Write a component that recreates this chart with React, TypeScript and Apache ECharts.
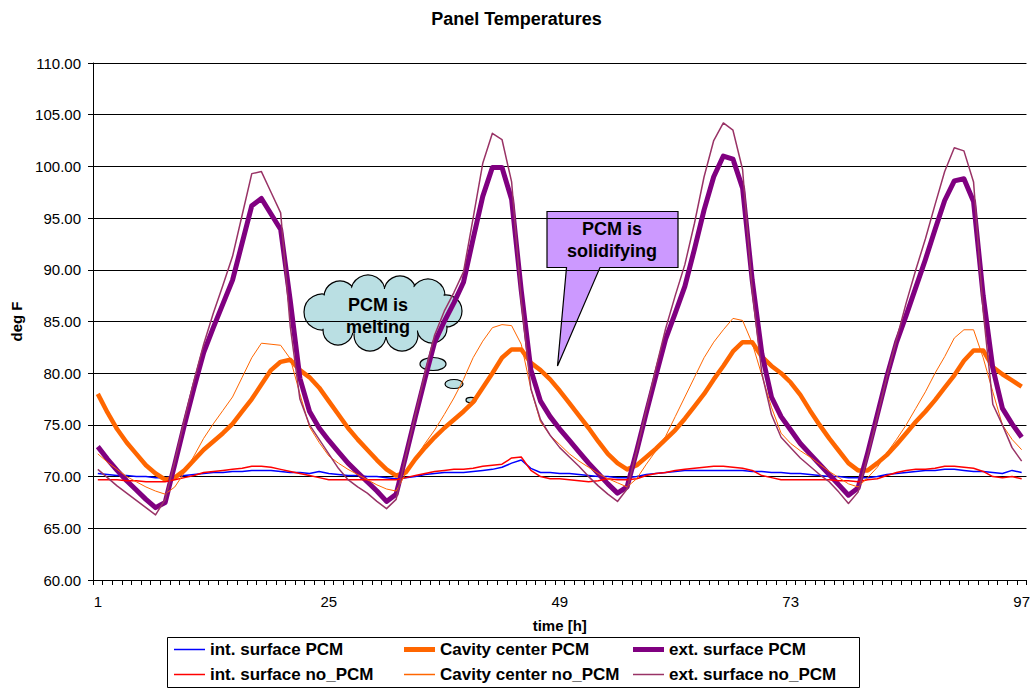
import React, { useEffect, useRef } from "react";
import * as echarts from "echarts";

const hours: string[] = Array.from({ length: 97 }, (_, i) => String(i + 1));

const intPCM = [
  70.3, 70.2, 70.1, 70.1, 70.0, 70.0, 69.9, 69.9, 70.0, 70.1,
  70.2, 70.3, 70.4, 70.4, 70.5, 70.5, 70.6, 70.6, 70.6, 70.5,
  70.4, 70.4, 70.3, 70.5, 70.3, 70.2, 70.1, 70.1, 70.0, 70.0,
  69.9, 69.8, 69.9, 70.0, 70.2, 70.3, 70.4, 70.4, 70.4, 70.5,
  70.6, 70.7, 70.9, 71.3, 71.6, 70.8, 70.4, 70.4, 70.3, 70.3,
  70.2, 70.1, 70.0, 70.0, 69.9, 69.9, 70.0, 70.2, 70.3, 70.4,
  70.5, 70.6, 70.6, 70.6, 70.6, 70.6, 70.6, 70.6, 70.5, 70.5,
  70.4, 70.4, 70.3, 70.3, 70.2, 70.1, 70.0, 70.0, 69.9, 69.9,
  69.9, 70.0, 70.2, 70.3, 70.4, 70.5, 70.6, 70.6, 70.7, 70.7,
  70.6, 70.5, 70.5, 70.4, 70.3, 70.6, 70.4,
];

const cavityPCM = [
  78.0, 76.2, 74.6, 73.3, 72.2, 71.1, 70.3, 69.7, 69.9, 70.6,
  71.6, 72.6, 73.4, 74.2, 75.1, 76.3, 77.5, 78.9, 80.3, 81.1,
  81.3, 80.3, 79.6, 78.6, 77.3, 76.0, 74.7, 73.6, 72.6, 71.6,
  70.7, 70.1, 70.4, 71.7, 72.8, 73.8, 74.7, 75.5, 76.3, 77.2,
  78.6, 80.0, 81.5, 82.3, 82.3, 81.0, 80.3, 79.4, 78.3, 77.1,
  75.9, 74.7, 73.4, 72.2, 71.3, 70.7, 71.1, 71.9, 72.7, 73.6,
  74.5, 75.6, 76.8, 78.0, 79.4, 80.7, 82.1, 83.0, 83.0, 81.6,
  80.7, 80.0, 79.1, 77.9, 76.4, 75.0, 73.7, 72.5, 71.3, 70.6,
  70.6, 71.3, 72.1, 73.1, 74.2, 75.3, 76.3, 77.4, 78.6, 79.8,
  81.2, 82.2, 82.2, 80.6, 79.9, 79.3, 78.7,
];

const extPCM = [
  72.9, 71.7, 70.6, 69.6, 68.7, 67.8, 67.0, 67.5, 71.2, 75.0,
  78.6, 82.0, 84.4, 86.7, 89.0, 92.6, 96.2, 96.9, 95.4, 93.9,
  87.0, 79.5, 76.3, 74.7, 73.5, 72.4, 71.3, 70.4, 69.5, 68.6,
  67.6, 68.3, 72.0, 75.8, 79.5, 83.0, 85.0, 86.8, 88.8, 93.0,
  97.1, 99.9, 99.9, 96.8, 88.0, 80.3, 77.3, 75.8, 74.6, 73.5,
  72.4, 71.3, 70.3, 69.3, 68.4, 69.0, 72.5, 76.2, 79.8, 83.3,
  85.8, 88.4, 92.0, 95.8, 99.0, 101.0, 100.7, 97.9, 89.0, 81.9,
  77.7, 75.8, 74.5, 73.2, 72.2, 71.2, 70.2, 69.2, 68.2, 68.9,
  72.3, 76.0, 79.7, 83.0, 85.6, 88.3, 91.0, 93.9, 96.7, 98.6,
  98.8, 96.6, 87.5, 80.5, 76.6, 75.1, 73.8,
];

const intNoPCM = [
  69.7, 69.7, 69.7, 69.6, 69.6, 69.5, 69.5, 69.5, 69.7, 69.9,
  70.1, 70.4, 70.5, 70.6, 70.7, 70.8, 71.0, 71.0, 70.9, 70.7,
  70.5, 70.3, 70.1, 69.9, 69.7, 69.7, 69.7, 69.7, 69.7, 69.7,
  69.7, 69.7, 69.9, 70.1, 70.3, 70.5, 70.6, 70.7, 70.7, 70.8,
  71.0, 71.1, 71.2, 71.8, 71.9, 70.6, 70.0, 69.8, 69.8, 69.7,
  69.6, 69.5, 69.6, 69.8, 69.7, 69.7, 69.8, 70.1, 70.3, 70.4,
  70.6, 70.7, 70.8, 70.9, 71.0, 71.0, 70.9, 70.8, 70.6, 70.1,
  69.9, 69.7, 69.7, 69.7, 69.7, 69.7, 69.7, 69.6, 69.6, 69.5,
  69.7, 69.8, 70.1, 70.4, 70.6, 70.7, 70.7, 70.8, 71.0, 71.0,
  70.9, 70.8, 70.5, 70.0, 69.9, 70.0, 69.8,
];

const cavityNoPCM = [
  72.2, 71.4, 70.7, 70.0, 69.5, 69.0, 68.6, 68.3, 69.0, 70.4,
  72.0, 73.7, 75.1, 76.4, 77.7, 79.6, 81.5, 82.9, 82.8, 82.7,
  81.4, 78.0, 74.8, 73.3, 72.0, 71.3, 70.7, 70.2, 69.7, 69.2,
  68.8, 68.6, 70.3, 71.8, 73.2, 74.5, 76.0, 77.6, 79.4, 81.5,
  83.1, 84.4, 84.7, 84.6, 82.8, 78.5, 75.3, 74.0, 73.1, 72.2,
  71.5, 70.9, 70.3, 69.8, 69.4, 69.0, 69.8, 71.2, 72.5, 73.9,
  75.8, 77.7, 79.6, 81.5, 83.0, 84.2, 85.3, 85.1, 82.9, 79.8,
  76.7, 74.2, 73.2, 72.5, 71.9, 71.2, 70.5, 69.9, 69.3, 69.0,
  69.9, 70.9, 72.3, 73.6, 75.0, 76.6, 78.2, 80.0, 81.6, 83.4,
  84.2, 84.2, 81.5, 78.2, 75.0, 73.6, 72.6,
];

const extNoPCM = [
  70.7, 69.9, 69.1, 68.4, 67.7, 67.0, 66.3, 67.8, 71.5, 75.5,
  79.3, 82.8, 85.8, 88.5, 91.3, 95.3, 99.3, 99.5, 97.5, 95.5,
  84.5, 77.5, 75.0, 73.6, 72.2, 70.8, 69.7, 69.0, 68.4, 67.6,
  66.9, 67.8, 72.0, 76.0, 80.0, 83.7, 86.0, 87.8, 89.8, 95.0,
  100.3, 103.2, 102.6, 98.5, 87.0, 78.5, 75.5, 74.0, 72.8, 71.9,
  71.0, 70.0, 69.1, 68.3, 67.6, 68.8, 72.5, 76.5, 80.5, 84.3,
  87.5, 90.5, 94.5, 99.0, 102.5, 104.2, 103.5, 99.7, 88.0, 80.0,
  76.0, 73.8, 72.8, 71.8, 71.0, 70.2, 69.5, 68.5, 67.4, 68.5,
  72.0, 75.8, 79.7, 83.3, 86.8, 90.0, 93.0, 96.3, 99.5, 101.8,
  101.5, 98.5, 86.0, 77.0, 75.0, 72.8, 71.5,
];

const seriesNames = [
  "int. surface PCM",
  "Cavity center PCM",
  "ext. surface PCM",
  "int. surface no_PCM",
  "Cavity center no_PCM",
  "ext. surface no_PCM",
];
const seriesData = [intPCM, cavityPCM, extPCM, intNoPCM, cavityNoPCM, extNoPCM];
const seriesColors = ["#0000FF", "#FF6600", "#800080", "#FF0000", "#FF6600", "#993366"];
const seriesWidths = [1.5, 4.5, 5, 1.5, 1, 1.5];

const FONT = "'Liberation Sans', Arial, sans-serif";

export default function App() {
  const ref = useRef<HTMLDivElement>(null);

  useEffect(() => {
    const chart = echarts.init(ref.current as HTMLDivElement, null, { renderer: "svg" });

    const cloudCircles: number[][] = [
      [322, 312, 18], [340, 297, 16], [368, 292, 17], [400, 292, 16], [428, 296, 17],
      [446, 311, 16], [432, 328, 15], [402, 335, 16], [370, 335, 16], [338, 330, 15],
    ];
    const cloudFill = "#BADFE3";
    const cloudChildren: any[] = [];
    cloudCircles.forEach(([cx, cy, r]) =>
      cloudChildren.push({
        type: "circle",
        shape: { cx, cy, r },
        style: { fill: cloudFill, stroke: "#000", lineWidth: 1.2 },
      })
    );
    cloudCircles.forEach(([cx, cy, r]) =>
      cloudChildren.push({
        type: "circle",
        shape: { cx, cy, r: r - 1.3 },
        style: { fill: cloudFill, lineWidth: 0 },
      })
    );
    cloudChildren.push({
      type: "ellipse",
      shape: { cx: 382, cy: 313, rx: 52, ry: 24 },
      style: { fill: cloudFill, lineWidth: 0 },
    });
    const bubbles = [
      [433, 364, 13, 6.5],
      [454, 384, 9, 4.5],
      [471, 400, 5, 2.7],
    ];
    bubbles.forEach(([cx, cy, rx, ry]) =>
      cloudChildren.push({
        type: "ellipse",
        shape: { cx, cy, rx, ry },
        style: { fill: cloudFill, stroke: "#000", lineWidth: 1.2 },
      })
    );
    cloudChildren.push({
      type: "text",
      x: 378,
      y: 316,
      style: {
        text: "PCM is\nmelting",
        font: `bold 18px ${FONT}`,
        fill: "#000",
        align: "center",
        verticalAlign: "middle",
        lineHeight: 22,
      },
    });

    const legendPos = [
      [174, 641], [404, 641], [633, 641],
      [174, 666], [404, 666], [633, 666],
    ];

    const option: any = {
      animation: false,
      backgroundColor: "#fff",
      title: {
        text: "Panel Temperatures",
        left: "center",
        top: 5,
        textStyle: { fontFamily: FONT, fontWeight: "bold", fontSize: 18, color: "#000" },
      },
      grid: { left: 93, right: 5, top: 63, bottom: 109, containLabel: false },
      legend: seriesNames.map((name, i) => ({
        left: legendPos[i][0],
        top: legendPos[i][1],
        padding: 0,
        selectedMode: false,
        itemWidth: 31,
        itemHeight: seriesWidths[i] > 3 ? 5 : Math.max(1.5, seriesWidths[i]),
        itemStyle: { borderWidth: 0 },
        data: [{ name, icon: "rect" }],
        textStyle: { fontFamily: FONT, fontWeight: "bold", fontSize: 17, color: "#000", padding: [0, 0, 0, 0] },
      })),
      xAxis: {
        type: "category",
        data: hours,
        boundaryGap: true,
        name: "time [h]",
        nameLocation: "middle",
        nameGap: 38,
        nameTextStyle: { fontFamily: FONT, fontWeight: "bold", fontSize: 15, color: "#000" },
        axisLine: { show: true, lineStyle: { color: "#000", width: 1 } },
        axisTick: { show: true, interval: 0, length: 5, lineStyle: { color: "#000" } },
        axisLabel: { interval: 23, margin: 14, fontFamily: FONT, fontSize: 15, color: "#000" },
        splitLine: { show: false },
      },
      yAxis: {
        type: "value",
        min: 60,
        max: 110,
        interval: 5,
        name: "deg F",
        nameLocation: "middle",
        nameGap: 68,
        nameRotate: 90,
        nameTextStyle: { fontFamily: FONT, fontWeight: "bold", fontSize: 15, color: "#000" },
        axisLine: { show: true, lineStyle: { color: "#000", width: 1 } },
        axisTick: { show: true, length: 5, lineStyle: { color: "#000" } },
        axisLabel: {
          margin: 12,
          fontFamily: FONT,
          fontSize: 15,
          color: "#000",
          formatter: (v: number) => v.toFixed(2),
        },
        splitLine: { show: true, lineStyle: { color: "#000", width: 1 } },
      },
      series: seriesNames.map((name, i) => ({
        name,
        type: "line",
        data: seriesData[i],
        symbol: "none",
        showSymbol: false,
        lineStyle: { color: seriesColors[i], width: seriesWidths[i], join: "round" },
        itemStyle: { color: seriesColors[i] },
        emphasis: { disabled: true },
        z: 2 + i,
      })),
      graphic: [
        {
          type: "rect",
          shape: { x: 167.5, y: 637.5, width: 692, height: 50 },
          style: { fill: "none", stroke: "#000", lineWidth: 1 },
          z: 1,
        },
        {
          type: "group",
          z: 50,
          children: cloudChildren,
        },
        {
          type: "group",
          z: 50,
          children: [
            {
              type: "polygon",
              shape: {
                points: [
                  [547, 211.5], [678, 211.5], [678, 267.5], [600, 267.5],
                  [557.5, 366], [566.5, 267.5], [547, 267.5],
                ],
              },
              style: { fill: "#CC99FF", stroke: "#000", lineWidth: 1.2 },
            },
            {
              type: "text",
              x: 612,
              y: 240,
              style: {
                text: "PCM is\nsolidifying",
                font: `bold 18px ${FONT}`,
                fill: "#000",
                align: "center",
                verticalAlign: "middle",
                lineHeight: 22,
              },
            },
          ],
        },
      ],
    };

    chart.setOption(option);
    return () => chart.dispose();
  }, []);

  return (
    <div
      ref={ref}
      style={{ position: "fixed", left: 0, top: 0, width: 1033, height: 689, background: "#fff" }}
    />
  );
}
